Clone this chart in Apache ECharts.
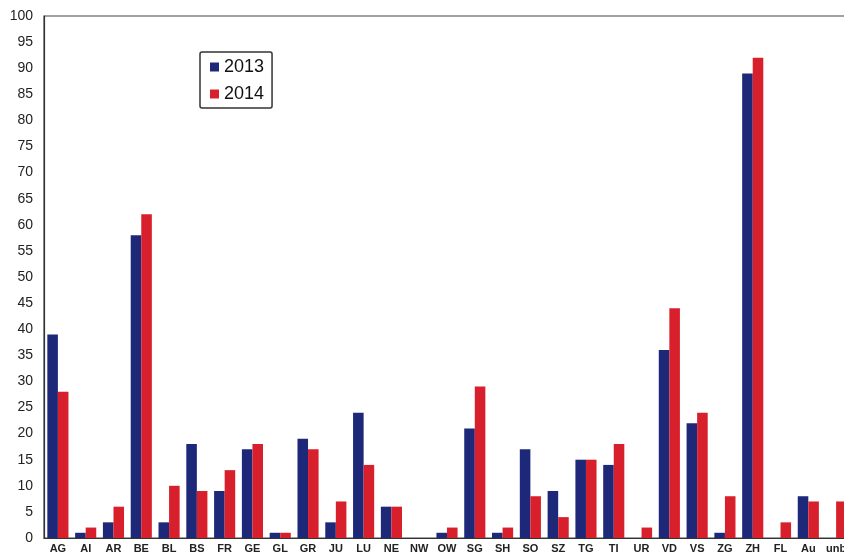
<!DOCTYPE html>
<html><head><meta charset="utf-8">
<script src="https://cdn.jsdelivr.net/npm/echarts@6/dist/echarts.min.js"></script>
<style>html,body{margin:0;padding:0;background:#fff}#c{width:844px;height:556px}</style>
</head><body><div id="c"></div>
<script>
const categories = ['AG','AI','AR','BE','BL','BS','FR','GE','GL','GR','JU','LU','NE','NW','OW','SG','SH','SO','SZ','TG','TI','UR','VD','VS','ZG','ZH','FL','Au','unb'];
const values2013 = [39,1,3,58,3,18,9,17,1,19,3,24,6,0,1,21,1,17,9,15,14,0,36,22,1,89,0,8,0];
const values2014 = [28,2,6,62,10,9,13,18,1,17,7,14,6,0,2,29,2,8,4,15,18,2,44,24,8,92,3,7,7];
const seriesNames = ['2013','2014'];
const chart = echarts.init(document.getElementById('c'));
chart.setOption({
  animation:false,
  backgroundColor:'#fff',
  grid:{left:44,top:16,bottom:18,right:-6,outerBoundsMode:'none',containLabel:false,show:true,borderColor:'#444',borderWidth:1.2,backgroundColor:'transparent'},
  legend:{
    data:seriesNames, orient:'vertical', left:200, top:52,
    itemWidth:9, itemHeight:9, itemGap:9, icon:'rect',
    padding:[6,8,5,10],
    borderColor:'#333', borderWidth:1.5, borderRadius:2,
    textStyle:{fontSize:18,color:'#111',fontFamily:'Liberation Sans'}
  },
  xAxis:{type:'category',data:categories,
    axisLine:{lineStyle:{color:'#333',width:1.2}},axisTick:{show:false},
    axisLabel:{interval:0,fontSize:11,fontWeight:'bold',color:'#222',margin:5,fontFamily:'Liberation Sans'}},
  yAxis:{type:'value',min:0,max:100,interval:5,
    axisLine:{show:true,lineStyle:{color:'#333',width:1.2}},axisTick:{show:false},splitLine:{show:false},
    axisLabel:{fontSize:14,color:'#222',margin:11,fontFamily:'Liberation Sans'}},
  series:[
    {name:seriesNames[0],type:'bar',data:values2013,itemStyle:{color:'#1e2878'},barGap:'0%',barCategoryGap:'24%'},
    {name:seriesNames[1],type:'bar',data:values2014,itemStyle:{color:'#d81f2c'},barGap:'0%',barCategoryGap:'24%'}
  ]
});
</script></body></html>
